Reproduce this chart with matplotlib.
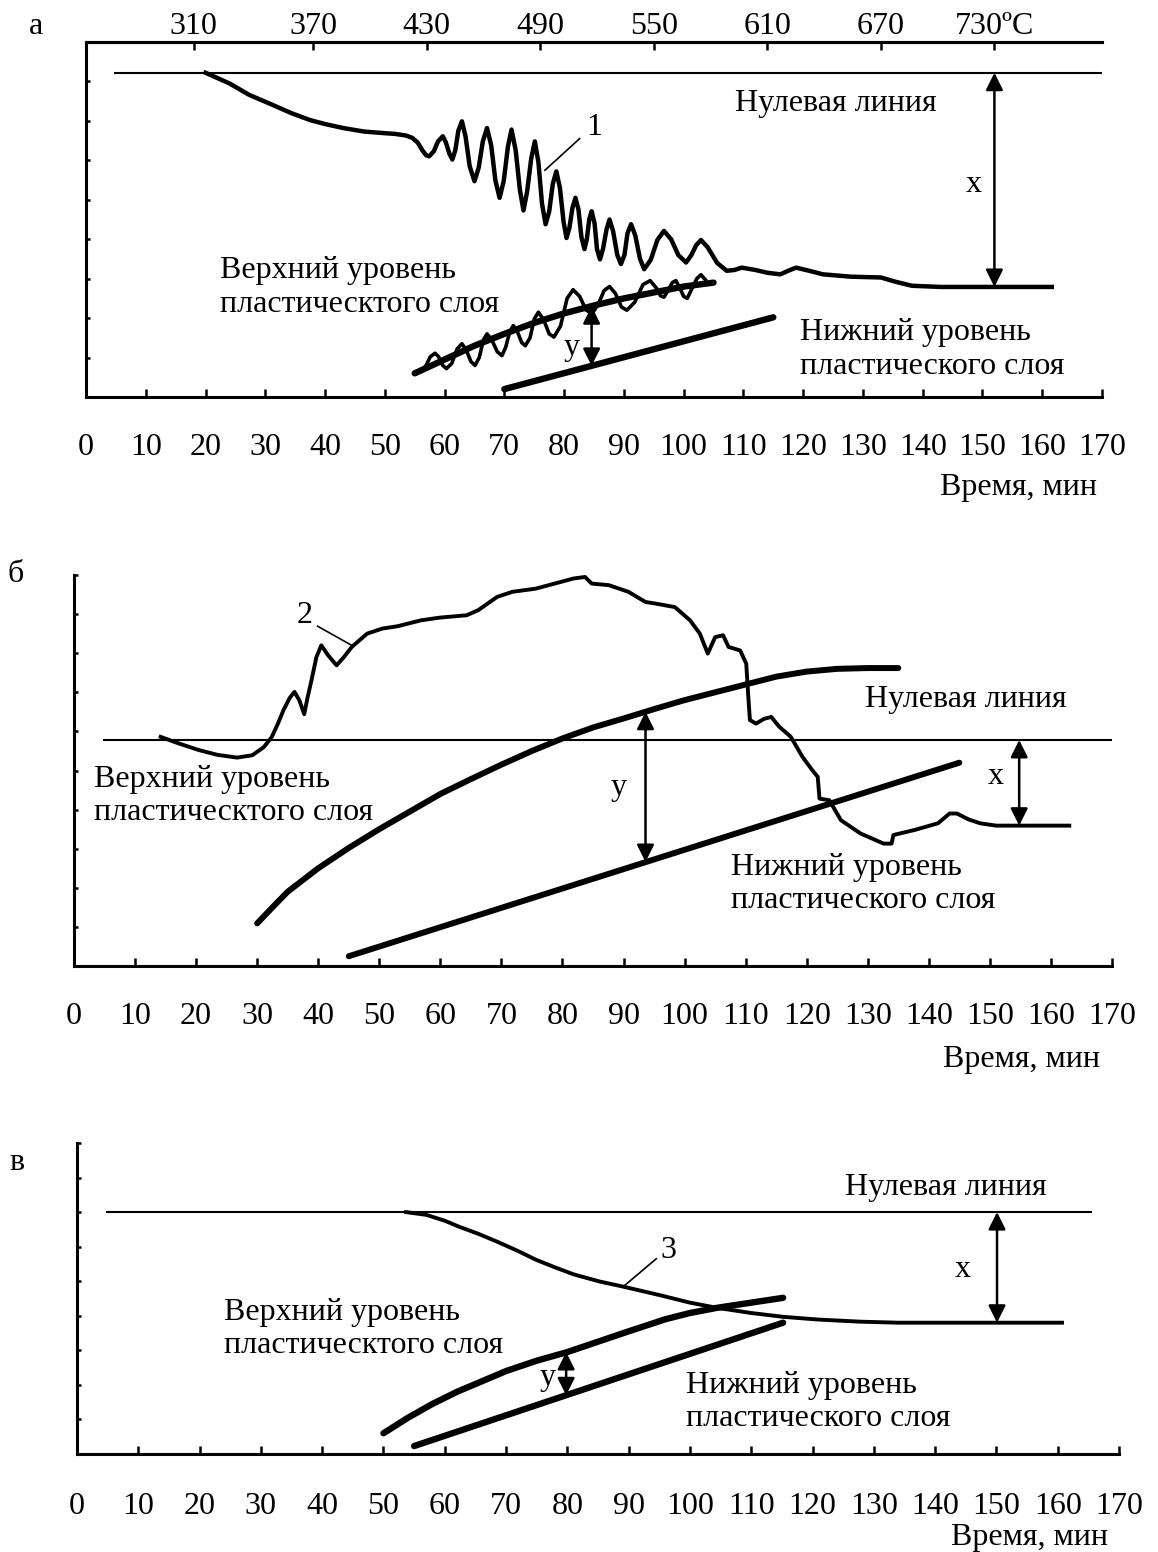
import matplotlib
matplotlib.use("Agg")
import matplotlib.pyplot as plt

plt.rcParams['font.family'] = ['Liberation Serif', 'DejaVu Serif']

W, H = 1158, 1552
FS = 23

time_ticks = list(range(0, 171, 10))
time_labels = [str(v) for v in time_ticks]

# ---------- panel а ----------
temp_pos = [18, 38, 57, 76, 95, 114, 133, 152]
temp_labels = ['310', '370', '430', '490', '550', '610', '670', '730ºC']

a_zero_t = [4.8, 170]
a_zero_y = [8.22, 8.22]

a_curve_t = [20, 24, 27.3, 31, 34.3, 37.5, 40, 43, 46.5, 49, 51.7, 53.5, 54.6, 55.5, 56.3, 56.9,
             57.4, 58.2, 58.9, 59.7, 60.2, 60.8, 61.3, 61.8, 62.3, 62.9, 63.5, 64.2, 65.0,
             65.7, 66.4, 67.1, 67.8, 68.5, 69.2, 69.9, 70.6, 71.2, 71.9, 72.6, 73.2, 73.8,
             74.5, 75.1, 75.7, 76.3, 76.9, 77.5, 78.1, 78.7, 79.3, 79.9, 80.4, 80.9, 81.4,
             81.9, 82.4, 82.9, 83.4, 83.8, 84.2, 84.6, 85.1, 85.5, 86.0, 86.5, 87.1, 87.6,
             88.2, 88.9, 89.5, 90.1, 90.6, 91.2, 91.9, 92.7, 93.4, 94.5, 95.6, 96.7, 97.9,
             99.1, 100.4, 101.3, 102.1, 102.9, 104.0, 105.6, 107.2, 108.5, 109.7, 112, 114,
             116.2, 117.5, 118.8, 121, 123.3, 128, 133, 135.5, 138.2, 143, 149.3, 155, 161.6]
a_curve_y = [8.22, 7.95, 7.66, 7.42, 7.2, 7.02, 6.92, 6.82, 6.73, 6.7, 6.67, 6.63, 6.57, 6.45, 6.25, 6.13,
             6.10, 6.23, 6.48, 6.61, 6.46, 6.17, 6.02, 6.26, 6.75, 6.99, 6.61, 5.85, 5.47,
             5.81, 6.48, 6.82, 6.38, 5.49, 5.05, 5.48, 6.35, 6.78, 6.25, 5.25, 4.73, 5.2,
             6.05, 6.48, 5.95, 4.9, 4.38, 4.7, 5.4, 5.72, 5.3, 4.45, 4.03, 4.3, 4.8,
             5.05, 4.75, 4.05, 3.75, 4.0, 4.5, 4.71, 4.4, 3.75, 3.49, 3.75, 4.25, 4.5,
             4.2, 3.6, 3.37, 3.6, 4.15, 4.38, 4.1, 3.5, 3.24, 3.48, 3.98, 4.21, 4.0,
             3.6, 3.41, 3.6, 3.85, 3.98, 3.8, 3.4, 3.2, 3.22, 3.28, 3.22, 3.15,
             3.11, 3.2, 3.28, 3.2, 3.11, 3.05, 3.03, 2.92, 2.82, 2.79, 2.79, 2.79, 2.79]

a_wave_t = [56.2, 56.9, 57.6, 58.4, 59.0, 59.7, 60.3, 61.2, 62.1, 62.9, 63.6, 64.4, 65.1, 65.8,
            66.5, 67.1, 67.9, 68.8, 69.6, 70.2, 70.9, 71.5, 72.2, 72.9, 73.5, 74.3, 75.0, 75.7,
            76.6, 77.5, 78.3, 79.4, 80.5, 81.5, 82.6, 83.7, 84.7, 85.7, 86.7, 87.6, 88.6, 89.6,
            90.5, 91.8, 93.2, 94.4, 95.5, 96.1, 96.7, 97.4, 98.1, 98.7, 99.4, 100.0, 100.6,
            101.4, 102.2, 102.9, 103.6]
a_wave_y = [0.67, 0.8, 1.02, 1.11, 1.02, 0.8, 0.72, 0.85, 1.22, 1.35, 1.2, 0.9, 0.80, 1.0,
            1.45, 1.60, 1.45, 1.15, 1.05, 1.25, 1.65, 1.81, 1.65, 1.38, 1.30, 1.5, 1.98, 2.15,
            1.95, 1.6, 1.52, 1.8, 2.5, 2.72, 2.55, 2.2, 2.12, 2.35, 2.7, 2.8, 2.62, 2.28,
            2.2, 2.4, 2.85, 2.95, 2.75, 2.57, 2.53, 2.7, 2.9, 2.95, 2.75, 2.55, 2.5,
            2.75, 3.0, 3.1, 2.98]

a_upper_t = [55, 60, 65, 70, 75, 80, 85, 90, 95, 100, 105]
a_upper_y = [0.6, 0.95, 1.3, 1.6, 1.88, 2.12, 2.32, 2.5, 2.65, 2.8, 2.9]
a_lower_t = [70, 115]
a_lower_y = [0.2, 2.02]

a_x_arrow = [152, 8.22, 2.79]
a_y_arrow = [84.6, 2.3, 0.79]

# ---------- panel б ----------
b_zero_t = [4.9, 170]
b_zero_y = [5.78, 5.78]

b_curve_t = [14.2, 17, 20.5, 23.5, 26.7, 29.2, 31.1, 32.4, 33.4, 34.3, 35.3, 36.1, 36.9, 37.7,
             38.3, 38.9, 39.7, 40.5, 41.6, 43, 44.2, 45.5, 48, 50.5, 53, 56.8, 59.9, 64.3,
             66.2, 69.3, 71.8, 75.6, 78.7, 81.8, 83.7, 84.8, 87.6, 90.8, 93.6, 95.2, 98.4,
             100.9, 102.5, 103.8, 105, 106.3, 107.2, 109.1, 110.1, 110.4, 110.7, 111.7, 113,
             114.2, 115.5, 117.4, 119.3, 120.9, 121.8, 122.1, 123.7, 125.6, 128.8, 132.6,
             133.9, 134.2, 137.7, 141.5, 143.4, 144.6, 146.5, 148.4, 151, 157, 163]
b_curve_y = [5.86, 5.7, 5.52, 5.4, 5.33, 5.39, 5.6, 5.86, 6.2, 6.54, 6.85, 7.01, 6.8, 6.44,
             6.9, 7.31, 7.9, 8.2, 7.95, 7.69, 7.9, 8.16, 8.5, 8.63, 8.69, 8.84, 8.91, 8.97,
             9.1, 9.44, 9.57, 9.65, 9.78, 9.91, 9.95, 9.78, 9.74, 9.57, 9.31, 9.27, 9.18,
             8.84, 8.5, 7.99, 8.41, 8.46, 8.16, 8.07, 7.73, 6.97, 6.29, 6.2, 6.32,
             6.37, 6.12, 5.86, 5.35, 5.01, 4.84, 4.28, 4.24, 3.73, 3.39, 3.13,
             3.13, 3.35, 3.48, 3.65, 3.9, 3.9, 3.75, 3.65, 3.59, 3.59, 3.59]

b_upper_t = [30, 32.5, 35, 40, 45, 50, 55, 60, 65, 70, 75, 80, 85, 90, 95, 100, 105, 110,
             115, 120, 125, 130, 135]
b_upper_y = [1.09, 1.5, 1.9, 2.5, 3.02, 3.5, 3.95, 4.4, 4.78, 5.15, 5.5, 5.82, 6.1, 6.33,
             6.57, 6.8, 7.0, 7.2, 7.4, 7.53, 7.6, 7.62, 7.62]
b_lower_t = [45, 145]
b_lower_y = [0.25, 5.2]

b_x_arrow = [154.8, 5.78, 3.59]
b_y_arrow = [93.6, 6.5, 2.66]

# ---------- panel в ----------
c_zero_t = [4.9, 165.4]
c_zero_y = [7.0, 7.0]

c_curve_t = [53.7, 57, 60, 62.3, 65.5, 68.6, 72, 74.9, 78, 81, 85.3, 89.2, 95, 100, 104.4,
             110, 115.2, 121, 127.7, 134, 140.5, 150, 160.7]
c_curve_y = [7.0, 6.92, 6.75, 6.58, 6.37, 6.14, 5.87, 5.62, 5.4, 5.2, 4.99, 4.84, 4.6, 4.38,
             4.23, 4.08, 3.97, 3.89, 3.83, 3.8, 3.8, 3.8, 3.8]

c_upper_t = [50, 54, 58, 62, 66, 70, 75, 80, 85, 90, 96, 100, 104.4, 110, 115.2]
c_upper_y = [0.6, 1.05, 1.45, 1.8, 2.1, 2.4, 2.7, 2.95, 3.25, 3.55, 3.9, 4.08, 4.23, 4.38, 4.52]
c_lower_t = [55, 115.2]
c_lower_y = [0.23, 3.8]

c_x_arrow = [150.1, 7.0, 3.8]
c_y_arrow = [79.8, 2.95, 1.70]

upper_text = 'Верхний уровень\nпластическтого слоя'
lower_text = 'Нижний уровень\nпластического слоя'
zero_text = 'Нулевая линия'


def make_axes(fig, left, top, right, bottom):
    return fig.add_axes([left / W, 1 - bottom / H, (right - left) / W, (bottom - top) / H])


def style_axes(ax, ymax, pad, top_spine=False):
    ax.set_xlim(0, 170)
    ax.set_ylim(0, ymax)
    ax.spines['right'].set_visible(False)
    ax.spines['top'].set_visible(top_spine)
    for side in ['left', 'bottom', 'top']:
        ax.spines[side].set_linewidth(2.2)
    ax.set_xticks(time_ticks)
    ax.set_xticklabels(time_labels)
    ax.tick_params(axis='x', direction='in', length=6, width=1.8, pad=pad, labelsize=FS)
    ax.set_yticks(range(1, ymax) if top_spine else range(1, ymax + 1))
    ax.set_yticklabels([])
    ax.tick_params(axis='y', direction='in', length=3, width=1.8)
    ax.patch.set_alpha(0)


def arrow(ax, pos):
    ax.annotate('', xy=(pos[0], pos[2]), xytext=(pos[0], pos[1]),
                arrowprops=dict(arrowstyle='<|-|>', color='black', lw=1.8,
                                mutation_scale=26, shrinkA=0, shrinkB=0))


def two_lines(ax, x, y, s):
    ax.text(x, y, s, fontsize=FS, ha='left', va='center', linespacing=1.2)


fig = plt.figure(figsize=(W / 100, H / 100), dpi=100)

# panel а
ax = make_axes(fig, 86, 42, 1102, 397)
style_axes(ax, 9, 26, top_spine=True)
ax.plot(a_zero_t, a_zero_y, color='black', lw=1.5)
ax.plot(a_curve_t, a_curve_y, color='black', lw=3.2, solid_joinstyle='round')
ax.plot(a_wave_t, a_wave_y, color='black', lw=2.6, solid_joinstyle='round')
ax.plot(a_upper_t, a_upper_y, color='black', lw=4.6, solid_capstyle='round')
ax.plot(a_lower_t, a_lower_y, color='black', lw=4.6, solid_capstyle='round')
arrow(ax, a_x_arrow)
arrow(ax, a_y_arrow)
ax.text(125.5, 7.43, zero_text, fontsize=FS, ha='center', va='center')
ax.text(148.6, 5.39, 'х', fontsize=FS, ha='center', va='center')
ax.text(81.2, 1.26, 'у', fontsize=FS, ha='center', va='center')
ax.text(85.1, 6.82, '1', fontsize=FS, ha='center', va='center')
ax.plot([82.6, 76.8], [6.55, 5.75], color='black', lw=1.2)
two_lines(ax, 22.5, 2.78, upper_text)
two_lines(ax, 119.4, 1.2, lower_text)

ax_top = ax.twiny()
ax_top.set_xlim(0, 170)
for side in ['left', 'right', 'bottom']:
    ax_top.spines[side].set_visible(False)
ax_top.spines['top'].set_linewidth(2.2)
ax_top.set_xticks(temp_pos)
ax_top.set_xticklabels(temp_labels)
ax_top.tick_params(axis='x', direction='in', length=6, width=1.8, pad=1, labelsize=FS)

# panel б
bx = make_axes(fig, 74, 575, 1112, 966)
style_axes(bx, 10, 26)
bx.plot(b_zero_t, b_zero_y, color='black', lw=1.5)
bx.plot(b_curve_t, b_curve_y, color='black', lw=2.8, solid_joinstyle='round')
bx.plot(b_upper_t, b_upper_y, color='black', lw=4.3, solid_capstyle='round')
bx.plot(b_lower_t, b_lower_y, color='black', lw=4.3, solid_capstyle='round')
arrow(bx, b_x_arrow)
arrow(bx, b_y_arrow)
bx.text(146, 6.82, zero_text, fontsize=FS, ha='center', va='center')
bx.text(151, 4.84, 'х', fontsize=FS, ha='center', va='center')
bx.text(89.2, 4.57, 'у', fontsize=FS, ha='center', va='center')
bx.text(37.8, 8.97, '2', fontsize=FS, ha='center', va='center')
bx.plot([39.9, 45.5], [8.69, 8.2], color='black', lw=1.2)
two_lines(bx, 3.3, 4.35, upper_text)
two_lines(bx, 107.6, 2.1, lower_text)

# panel в
cx = make_axes(fig, 77, 1143, 1119, 1454)
style_axes(cx, 9, 27)
cx.plot(c_zero_t, c_zero_y, color='black', lw=1.5)
cx.plot(c_curve_t, c_curve_y, color='black', lw=2.8, solid_joinstyle='round')
cx.plot(c_upper_t, c_upper_y, color='black', lw=4.6, solid_capstyle='round')
cx.plot(c_lower_t, c_lower_y, color='black', lw=4.6, solid_capstyle='round')
arrow(cx, c_x_arrow)
arrow(cx, c_y_arrow)
cx.text(141.7, 7.71, zero_text, fontsize=FS, ha='center', va='center')
cx.text(144.5, 5.33, 'х', fontsize=FS, ha='center', va='center')
cx.text(76.8, 2.2, 'у', fontsize=FS, ha='center', va='center')
cx.text(96.5, 5.9, '3', fontsize=FS, ha='center', va='center')
cx.plot([94.5, 89.3], [5.65, 4.87], color='black', lw=1.2)
two_lines(cx, 24, 3.62, upper_text)
two_lines(cx, 99.3, 1.51, lower_text)

# panel letters and axis titles
for letter, (px, py) in zip(['а', 'б', 'в'], [(36, 27), (16, 575), (17, 1163)]):
    fig.text(px / W, 1 - py / H, letter, fontsize=FS, ha='center', va='center')
for py, pr in [(487, 1097), (1060, 1100), (1537, 1108)]:
    fig.text(pr / W, 1 - py / H, 'Время, мин', fontsize=FS, ha='right', va='center')

fig.savefig('out.png', dpi=100)
